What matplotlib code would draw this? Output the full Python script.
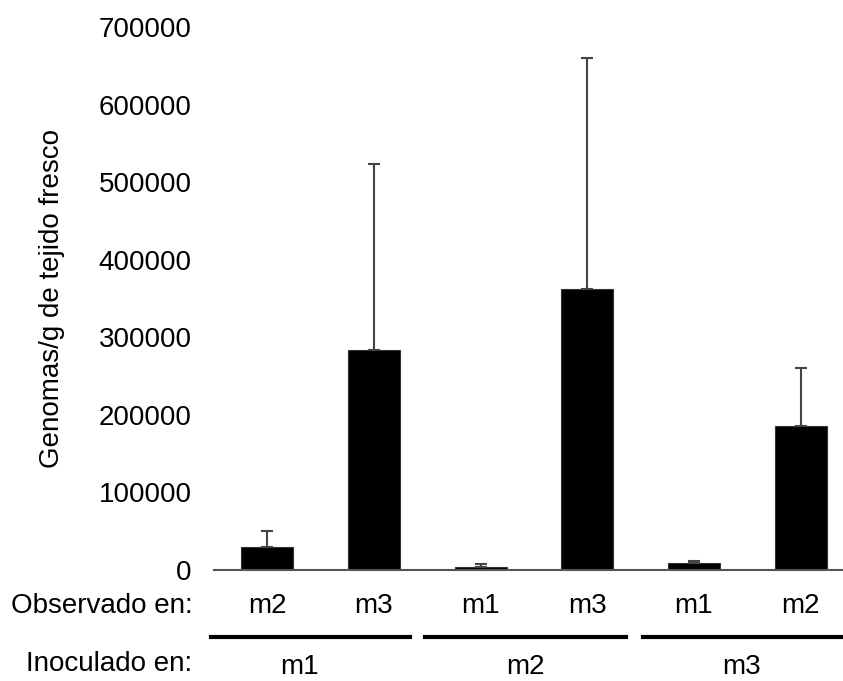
import matplotlib
matplotlib.use('Agg')
from matplotlib import pyplot as plt
import numpy as np

plt.rcParams['font.family'] = ['Liberation Sans', 'DejaVu Sans']

observado = ['m2', 'm3', 'm1', 'm3', 'm1', 'm2']
inoculado = ['m1', 'm2', 'm3']
genomas = [30000, 284000, 4300, 362000, 9500, 186000]
error = [20000, 239000, 3000, 298000, 2500, 75000]

fig = plt.figure(figsize=(8.43, 6.81), dpi=100)
ax = fig.add_axes([214/843, 1-570/681, 640/843, 543/681])

x = np.arange(len(genomas))
ax.bar(x, genomas, width=0.49, color='black', edgecolor='#333333', linewidth=0.8, zorder=2)
ax.errorbar(x, genomas, yerr=[np.zeros(len(error)), error], fmt='none',
            ecolor='#444444', elinewidth=1.5, capsize=4.5, capthick=1.5, zorder=3)

ax.set_xlim(-0.5, 5.5)
ax.set_ylim(0, 700000)
ax.set_yticks(np.arange(0, 700001, 100000))
ax.set_yticklabels([str(v) for v in range(0, 700001, 100000)], fontsize=20)
ax.tick_params(axis='y', length=0, pad=16)
ax.set_xticks([])

for s in ['top', 'right', 'left']:
    ax.spines[s].set_visible(False)
ax.spines['bottom'].set_color('#555555')
ax.spines['bottom'].set_linewidth(1.5)

ax.set_ylabel('Genomas/g de tejido fresco', fontsize=20, labelpad=24)

# etiquetas de abajo
trans = ax.get_xaxis_transform()
for i, lab in enumerate(observado):
    ax.text(i, -0.066, lab, transform=trans, ha='center', va='center', fontsize=20)
ax.text(-0.034, -0.066, 'Observado en:', transform=ax.transAxes, ha='right', va='center', fontsize=20)

segs = [(-0.53, 1.34), (1.48, 3.36), (3.52, 5.45)]
for a, b in segs:
    ax.plot([a, b], [-0.124, -0.124], transform=trans, color='black', linewidth=3, clip_on=False)

pos = [0.3, 2.42, 4.45]
for p, lab in zip(pos, inoculado):
    ax.text(p, -0.178, lab, transform=trans, ha='center', va='center', fontsize=20)
ax.text(-0.034, -0.173, 'Inoculado en:', transform=ax.transAxes, ha='right', va='center', fontsize=20)

plt.savefig('out.png', dpi=100)
